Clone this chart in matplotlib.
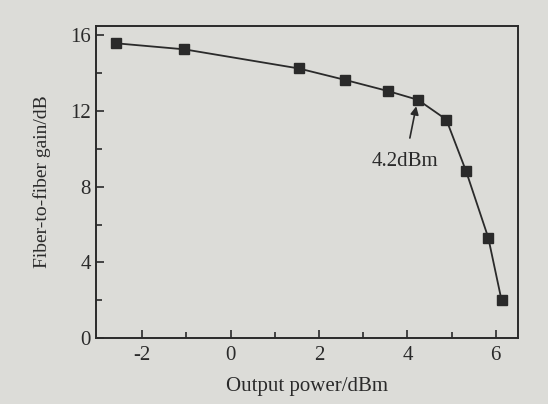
import matplotlib.pyplot as plt
from matplotlib.ticker import FixedLocator

# output power (dBm) vs fiber-to-fiber gain (dB)
power = [-2.60, -1.05, 1.54, 2.58, 3.57, 4.24, 4.88, 5.33, 5.83, 6.13]
gain = [15.58, 15.26, 14.25, 13.65, 13.05, 12.59, 11.55, 8.81, 5.31, 2.01]
x_ticks = [-2, 0, 2, 4, 6]
x_minor = [-1, 1, 3, 5]
y_ticks = [0, 4, 8, 12, 16]
y_minor = [2, 6, 10, 14]

plt.rcParams['font.family'] = ['Liberation Serif', 'DejaVu Serif']
plt.rcParams['axes.unicode_minus'] = False
bg = '#dcdcd8'
ink = '#2a2a2a'

fig = plt.figure(figsize=(5.48, 4.04), dpi=100, facecolor=bg)
ax = fig.add_axes([0.175, 0.163, 0.77, 0.773], facecolor=bg)

ax.plot(power, gain, color=ink, lw=1.3, marker='s', markersize=6.5,
        markerfacecolor=ink, markeredgecolor=ink)

# arrow marking the 1 dB compression point
ax.annotate('4.2dBm', xy=(4.2, 12.25), xytext=(3.95, 9.35),
            ha='center', va='center', fontsize=15, color=ink,
            arrowprops=dict(arrowstyle='-|>', color=ink, lw=1.2,
                            shrinkA=8, shrinkB=0, mutation_scale=12))

ax.set_xlim(-3.05, 6.5)
ax.set_ylim(0, 16.5)
ax.set_xticks(x_ticks)
ax.set_yticks(y_ticks)
ax.xaxis.set_minor_locator(FixedLocator(x_minor))
ax.yaxis.set_minor_locator(FixedLocator(y_minor))
ax.tick_params(which='both', direction='in', top=False, right=False,
               colors=ink, labelsize=15, width=1.2)
ax.tick_params(which='major', length=6)
ax.tick_params(which='minor', length=4)
ax.tick_params(axis='x', pad=6)

for s in ax.spines.values():
    s.set_color(ink)
    s.set_linewidth(1.4)

ax.set_xlabel('Output power/dBm', fontsize=15, color=ink, labelpad=8)
ax.set_ylabel('Fiber-to-fiber gain/dB', fontsize=14, color=ink, labelpad=14)

plt.savefig('out.png', dpi=100, facecolor=bg)
